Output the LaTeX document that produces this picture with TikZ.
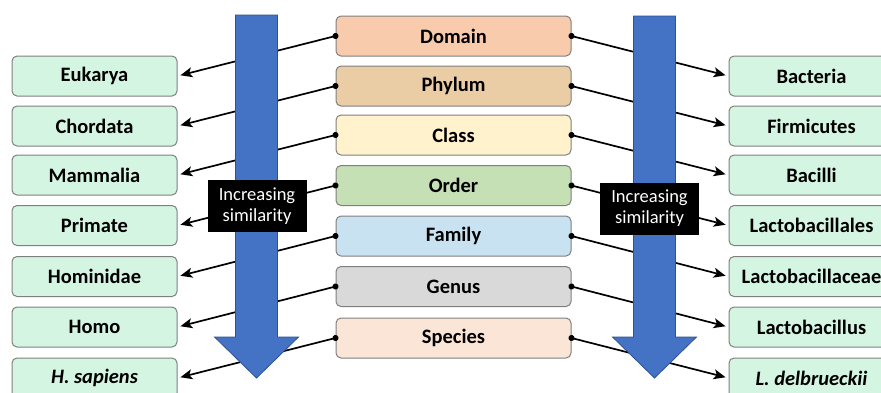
\documentclass[tikz,border=0pt]{standalone}
\usepackage{fontspec}
\setmainfont{Carlito}
\usetikzlibrary{arrows.meta}
\definecolor{boxborder}{HTML}{7F7F7F}
\definecolor{sidefill}{HTML}{D5F5E3}
\definecolor{cDomain}{HTML}{F8CBAD}
\definecolor{cPhylum}{HTML}{EBCDA5}
\definecolor{cClass}{HTML}{FFF2CC}
\definecolor{cOrder}{HTML}{C5E0B4}
\definecolor{cFamily}{HTML}{C9E2F1}
\definecolor{cGenus}{HTML}{D9D9D9}
\definecolor{cSpecies}{HTML}{FBE5D6}
\definecolor{arrowfill}{HTML}{4472C4}
\definecolor{arrowline}{HTML}{2F528F}
\begin{document}
\begin{tikzpicture}[x=1pt,y=-1pt,
  rbox/.style={draw=boxborder, line width=1pt, rounded corners=5pt,
    minimum width=#1, minimum height=40pt, inner sep=0pt,
    font=\fontsize{20.5}{23}\selectfont\bfseries},
  midbox/.style={rbox=235pt, fill=#1},
  sidebox/.style={rbox=165pt, fill=sidefill},
  conn/.style={line width=1.7pt,
    {Circle[length=6pt]}-{Stealth[length=12pt,width=10pt,inset=3pt]},
    shorten <=-3pt, shorten >=3pt},
  bigarrow/.style={fill=arrowfill, draw=arrowline, line width=0.8pt},
  simbox/.style={fill=black, text=white, minimum width=99pt, minimum height=52pt,
    inner sep=0pt, align=center, font=\fontsize{18.5}{21}\selectfont}]
\clip (0,0) rectangle (881,392);
% centre column
\node[midbox=cDomain]  (dom) at (453.5,36)  {Domain};
\node[midbox=cPhylum]  (phy) at (453.5,86)  {Phylum};
\node[midbox=cClass]   (cla) at (453.5,135) {Class};
\node[midbox=cOrder]   (ord) at (453.5,185.5) {Order};
\node[midbox=cFamily]  (fam) at (453.5,236) {Family};
\node[midbox=cGenus]   (gen) at (453.5,286.5) {Genus};
\node[midbox=cSpecies] (spe) at (453.5,338) {Species};
% left column
\node[sidebox] (euk) at (94.5,76)    {Eukarya};
\node[sidebox] (cho) at (94.5,126)   {Chordata};
\node[sidebox] (mam) at (94.5,175)   {Mammalia};
\node[sidebox] (pri) at (94.5,225.5) {Primate};
\node[sidebox] (hom) at (94.5,276.5) {Hominidae};
\node[sidebox] (hmo) at (94.5,327)   {Homo};
\node[sidebox] (hsa) at (94.5,378)   {\textit{H. sapiens}};
% right column
\node[sidebox] (bac) at (811.5,76)    {Bacteria};
\node[sidebox] (fir) at (811.5,126)   {Firmicutes};
\node[sidebox] (bcl) at (811.5,175)   {Bacilli};
\node[sidebox] (lal) at (811.5,225.5) {Lactobacillales};
\node[sidebox] (lac) at (811.5,276.5) {Lactobacillaceae};
\node[sidebox] (lbc) at (811.5,327)   {Lactobacillus};
\node[sidebox] (lde) at (811.5,378)   {\textit{L. delbrueckii}};
% connectors
\draw[conn] (dom.west) -- (euk.east);
\draw[conn] (phy.west) -- (cho.east);
\draw[conn] (cla.west) -- (mam.east);
\draw[conn] (ord.west) -- (pri.east);
\draw[conn] (fam.west) -- (hom.east);
\draw[conn] (gen.west) -- (hmo.east);
\draw[conn] (spe.west) -- (hsa.east);
\draw[conn] (dom.east) -- (bac.west);
\draw[conn] (phy.east) -- (fir.west);
\draw[conn] (cla.east) -- (bcl.west);
\draw[conn] (ord.east) -- (lal.west);
\draw[conn] (fam.east) -- (lac.west);
\draw[conn] (gen.east) -- (lbc.west);
\draw[conn] (spe.east) -- (lde.west);
% big arrows
\draw[bigarrow] (235.5,15) -- (277.5,15) -- (277.5,337) -- (298.5,337) -- (256.5,378) -- (214.5,337) -- (235.5,337) -- cycle;
\draw[bigarrow] (633.5,16) -- (675.5,16) -- (675.5,337) -- (696.5,337) -- (654.5,378) -- (612.5,337) -- (633.5,337) -- cycle;
% labels
\node[simbox] (simL) at (257,206)   {Increasing\\similarity};
\node[simbox] (simR) at (649.5,208.5) {Increasing\\similarity};
\end{tikzpicture}
\end{document}
